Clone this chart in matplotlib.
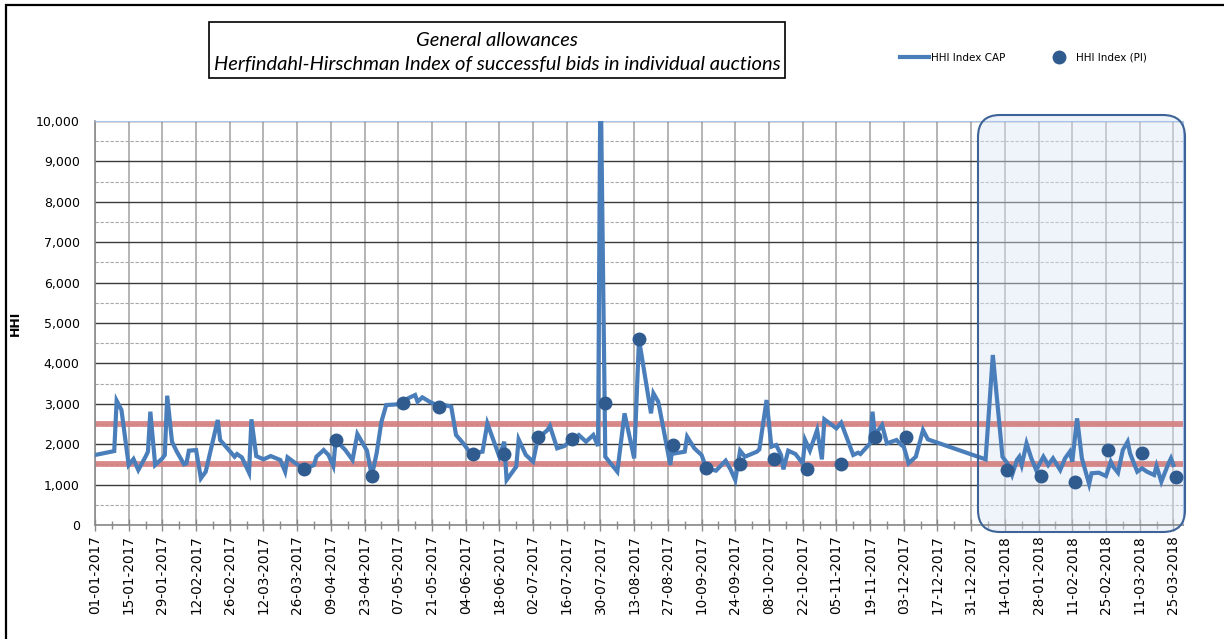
import numpy as np
import pandas as pd
import matplotlib
matplotlib.use('Agg')
import matplotlib.pyplot as plt
import matplotlib.dates as mdates
from matplotlib.ticker import FixedLocator, MultipleLocator, FuncFormatter
from matplotlib.patches import Rectangle, FancyBboxPatch

# HHI of successful bids, CAP auctions (days counted from 01-01-2017)
cap_day = [0, 8, 9, 11, 14, 16, 18, 21, 22, 23, 25, 28, 29, 30, 32, 34, 37, 38, 39, 42,
           44, 46, 51, 52, 55, 58, 59, 61, 64, 65, 67, 70, 73, 77, 79, 80, 83, 87, 91, 92,
           95, 97, 99, 100, 104, 107, 109, 113, 115, 117, 119, 121, 126, 128, 130, 133, 134, 136, 139, 141,
           143, 145, 148, 150, 153, 156, 161, 163, 166, 168, 170, 171, 175, 176, 179, 182, 184, 188, 189, 192,
           195, 197, 199, 201, 204, 207, 209, 210, 212, 217, 220, 224, 226, 231, 232, 234, 236, 239, 240, 241,
           245, 246, 249, 252, 254, 258, 262, 264, 266, 268, 270, 275, 276, 279, 281, 283, 285, 286, 288, 291,
           294, 295, 297, 300, 302, 303, 308, 310, 315, 317, 318, 322, 323, 324, 327, 329, 331, 333, 335, 336,
           338, 341, 344, 346, 370, 373, 377, 379, 381, 383, 384, 385, 387, 389, 391, 394, 396, 398, 401, 403,
           405, 406, 408, 410, 413, 414, 417, 420, 422, 423, 425, 427, 429, 430, 433, 435, 437, 440, 441, 443,
           446, 447, 448]
cap_hhi = [1733, 1830, 3077, 2847, 1485, 1633, 1361, 1690, 1815, 2805, 1485, 1650, 1733, 3200, 2062, 1815, 1502, 1527, 1840, 1856,
           1155, 1320, 2600, 2104, 1898, 1690, 1757, 1675, 1295, 2616, 1707, 1625, 1707, 1609, 1320, 1675, 1543, 1378, 1485, 1690,
           1856, 1733, 1460, 2104, 1856, 1609, 2252, 1840, 1213, 1774, 2557, 2970, 2987, 3027, 3135, 3218, 3052, 3160, 3052, 2995,
           2913, 2970, 2929, 2228, 2021, 1774, 1815, 2517, 2021, 1690, 2062, 1114, 1444, 2120, 1733, 1568, 2145, 2351, 2450, 1898,
           1955, 2062, 2145, 2228, 2062, 2228, 1955, 11500, 1690, 1320, 2764, 1650, 4596, 2764, 3260, 3052, 2433, 1485, 1980, 1774,
           1815, 2186, 1898, 1733, 1403, 1345, 1592, 1378, 1114, 1840, 1690, 1815, 1873, 3094, 1939, 1980, 1733, 1378, 1840, 1757,
           1527, 2104, 1840, 2351, 1625, 2616, 2393, 2532, 1733, 1790, 1757, 2021, 2805, 2228, 2475, 2021, 2062, 2104, 1980, 1939,
           1527, 1690, 2351, 2120, 1625, 4208, 1690, 1527, 1238, 1609, 1690, 1485, 2021, 1650, 1361, 1690, 1485, 1650, 1361, 1650,
           1815, 1568, 2640, 1650, 1015, 1280, 1295, 1213, 1568, 1444, 1295, 1856, 2062, 1774, 1320, 1403, 1320, 1238, 1460, 1072,
           1527, 1650, 1485]

# HHI of successful bids, PI auctions
pi_day = [87, 100, 115, 128, 143, 157, 170, 184, 198, 212, 226, 240, 254, 268, 282, 296, 310, 324, 337,
          379, 393, 407, 421, 435, 449]
pi_hhi = [1380, 2110, 1213, 3027, 2910, 1750, 1757, 2170, 2120, 3012, 4596, 1980, 1403, 1510, 1625, 1378, 1510, 2170, 2186,
          1361, 1213, 1072, 1856, 1774, 1196]

thresholds = [1500, 2500]
title_lines = ['General allowances', 'Herfindahl-Hirschman Index of successful bids in individual auctions']

start = pd.Timestamp('2017-01-01')
end = start + pd.Timedelta(days=452)
cap_dates = start + pd.to_timedelta(cap_day, unit='D')
pi_dates = start + pd.to_timedelta(pi_day, unit='D')

fig = plt.figure(figsize=(12.24, 6.39), dpi=100)
ax = fig.add_axes([0.0776, 0.1784, 0.8889, 0.6322])

# grid
ax.yaxis.set_major_locator(MultipleLocator(1000))
ax.yaxis.set_minor_locator(MultipleLocator(500))
major_dates = pd.date_range(start, end, freq='14D')
minor_dates = pd.date_range(start, end, freq='7D')
ax.xaxis.set_major_locator(FixedLocator(mdates.date2num(major_dates)))
ax.xaxis.set_minor_locator(FixedLocator(mdates.date2num(minor_dates)))
ax.xaxis.set_major_formatter(mdates.DateFormatter('%d-%m-%Y'))
ax.yaxis.set_major_formatter(FuncFormatter(lambda v, p: '{:,.0f}'.format(v)))

ax.grid(axis='y', which='major', color='#3a3a3a', lw=1.0)
ax.grid(axis='y', which='minor', color='#a8a8a8', lw=0.8, ls=(0, (3, 1.5)))
ax.grid(axis='x', which='major', color='#b4b4b4', lw=1.4)
ax.set_axisbelow(True)

for t in thresholds:
    ax.axhline(t, color='#d47e7d', lw=4.2, alpha=0.9, zorder=2)

ax.plot(cap_dates, cap_hhi, color='#4a7ebb', lw=3, zorder=3, label='HHI Index CAP',
        solid_joinstyle='miter')
ax.plot(pi_dates, pi_hhi, 'o', color='#2f5b8f', ms=9, zorder=4, label='HHI Index (PI)')

ax.set_xlim(mdates.date2num(start), mdates.date2num(end))
ax.set_ylim(0, 10000)
ax.set_ylabel('HHI', fontsize=9, fontweight='bold')
ax.yaxis.set_label_coords(-0.067, 0.5)

ax.tick_params(axis='x', which='major', direction='inout', length=9, width=1, color='#8a8a8a',
               labelsize=9.8, labelrotation=90, pad=3)
ax.tick_params(axis='x', which='minor', direction='inout', length=6, width=1, color='#8a8a8a')
ax.tick_params(axis='y', which='both', length=0, labelsize=9, pad=11)

for side in ['top', 'right']:
    ax.spines[side].set_color('#a9c4ea')
for side in ['left', 'bottom']:
    ax.spines[side].set_color('#8a8a8a')
    ax.spines[side].set_linewidth(1.2)

# highlighted 2018 period
hl = FancyBboxPatch((9.78, 1.07), 2.07, 4.17, boxstyle='round,pad=0,rounding_size=0.22',
                    transform=fig.dpi_scale_trans, facecolor='#dce6f4', alpha=0.45,
                    edgecolor='none', zorder=1, clip_on=False)
ax.add_patch(hl)
hl_edge = FancyBboxPatch((9.78, 1.07), 2.07, 4.17, boxstyle='round,pad=0,rounding_size=0.22',
                         transform=fig.dpi_scale_trans, facecolor='none',
                         edgecolor='#3e6497', lw=1.5, zorder=5, clip_on=False)
ax.add_patch(hl_edge)

# title box
fig.add_artist(Rectangle((2.09, 6.39 - 0.78), 5.76, 0.56, transform=fig.dpi_scale_trans,
                         facecolor='white', edgecolor='black', lw=1.2))
fig.text(4.97 / 12.24, 1 - 0.40 / 6.39, title_lines[0], ha='center', va='center',
         fontsize=14.5, style='italic', family='Lato')
fig.text(4.97 / 12.24, 1 - 0.65 / 6.39, title_lines[1], ha='center', va='center',
         fontsize=14.5, style='italic', family='Lato')

# outer frame
fig.add_artist(Rectangle((0.06, -0.1), 12.5, 6.39 - 0.05 + 0.1, transform=fig.dpi_scale_trans,
                         facecolor='none', edgecolor='black', lw=1.6))

fig.legend(loc='center', bbox_to_anchor=(0.836, 0.91), ncol=2, frameon=False,
           fontsize=7.5, handlelength=2.8, columnspacing=3.8, handletextpad=0.2)

fig.savefig('out.png', dpi=100)
